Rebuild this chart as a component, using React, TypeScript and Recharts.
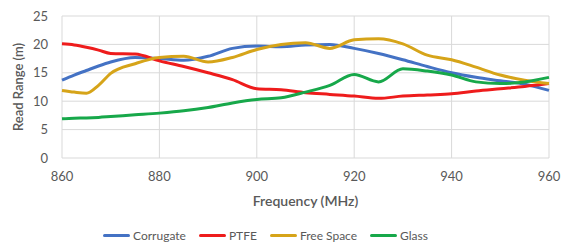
import React from "react";
import {
  LineChart,
  Line,
  XAxis,
  YAxis,
  CartesianGrid,
  Legend,
} from "recharts";

const frequencies = [
  860, 862.5, 865, 867.5, 870, 875, 880, 885, 890, 895, 900, 905, 910, 915,
  920, 925, 930, 935, 940, 945, 950, 955, 960,
];

const corrugate = [
  13.7, 14.6, 15.4, 16.2, 16.9, 17.7, 17.5, 17.2, 17.9, 19.3, 19.7, 19.6, 19.9,
  20.0, 19.3, 18.4, 17.3, 16.1, 15.0, 14.2, 13.6, 13.0, 11.9,
];
const ptfe = [
  20.1, 19.9, 19.5, 19.0, 18.4, 18.3, 17.1, 16.1, 15.0, 13.8, 12.2, 12.0, 11.5,
  11.2, 10.9, 10.5, 10.9, 11.1, 11.3, 11.8, 12.2, 12.6, 13.1,
];
const freeSpace = [
  11.9, 11.6, 11.4, 12.8, 14.9, 16.6, 17.7, 17.9, 16.9, 17.7, 19.1, 20.0, 20.3,
  19.3, 20.8, 21.0, 20.1, 18.1, 17.3, 16.0, 14.6, 13.7, 13.1,
];
const glass = [
  6.9, 7.0, 7.05, 7.15, 7.3, 7.6, 7.9, 8.3, 8.9, 9.7, 10.3, 10.6, 11.6, 12.8,
  14.7, 13.4, 15.7, 15.3, 14.6, 13.4, 13.1, 13.4, 14.2,
];

const xTicks = [860, 880, 900, 920, 940, 960];
const yTicks = [0, 5, 10, 15, 20, 25];

const series = [
  { key: "corrugate", name: "Corrugate", color: "#4472c4" },
  { key: "ptfe", name: "PTFE", color: "#ee1c1c" },
  { key: "freeSpace", name: "Free Space", color: "#d6a419" },
  { key: "glass", name: "Glass", color: "#17a84a" },
];

const data = frequencies.map((f, i) => ({
  freq: f,
  corrugate: corrugate[i],
  ptfe: ptfe[i],
  freeSpace: freeSpace[i],
  glass: glass[i],
}));

const font = "Lato, 'Open Sans', sans-serif";

function LegendRow() {
  return (
    <div
      style={{
        display: "flex",
        justifyContent: "center",
        alignItems: "center",
        gap: 13,
        fontFamily: font,
        fontSize: 12,
        color: "#595959",
        paddingRight: 42,
      }}
    >
      {series.map((s) => (
        <div key={s.key} style={{ display: "flex", alignItems: "center" }}>
          <span
            style={{
              display: "inline-block",
              width: 27,
              height: 3,
              borderRadius: 2,
              background: s.color,
              marginRight: 3,
            }}
          />
          {s.name}
        </div>
      ))}
    </div>
  );
}

export default function App() {
  return (
    <div style={{ position: "absolute", left: 0, top: 0, background: "#fff" }}>
      <LineChart
        width={561}
        height={242}
        data={data}
        margin={{ top: 16, right: 12, bottom: 0, left: 24 }}
      >
        <CartesianGrid stroke="#d9d9d9" />
        <XAxis
          type="number"
          dataKey="freq"
          domain={[860, 960]}
          ticks={xTicks}
          axisLine={false}
          tickLine={false}
          height={60}
          tickMargin={8}
          tick={{ fill: "#595959", fontSize: 13, fontFamily: font }}
          label={{
            value: "Frequency (MHz)",
            position: "insideBottom",
            offset: 12,
            style: {
              fill: "#595959",
              fontSize: 14,
              fontWeight: 600,
              fontFamily: font,
            },
          }}
        />
        <YAxis
          type="number"
          domain={[0, 25]}
          ticks={yTicks}
          axisLine={false}
          tickLine={false}
          width={38}
          tickMargin={8}
          tick={{ fill: "#595959", fontSize: 13, fontFamily: font }}
          label={{
            value: "Read Range (m)",
            angle: -90,
            position: "insideLeft",
            offset: -6,
            style: {
              fill: "#595959",
              fontSize: 13,
              fontWeight: 600,
              fontFamily: font,
              textAnchor: "middle",
            },
          }}
        />
        <Legend
          verticalAlign="bottom"
          height={24}
          wrapperStyle={{ bottom: -10 }}
          content={() => <LegendRow />}
        />
        {series.map((s) => (
          <Line
            key={s.key}
            type="monotone"
            dataKey={s.key}
            name={s.name}
            stroke={s.color}
            strokeWidth={3}
            dot={false}
            isAnimationActive={false}
          />
        ))}
      </LineChart>
    </div>
  );
}
